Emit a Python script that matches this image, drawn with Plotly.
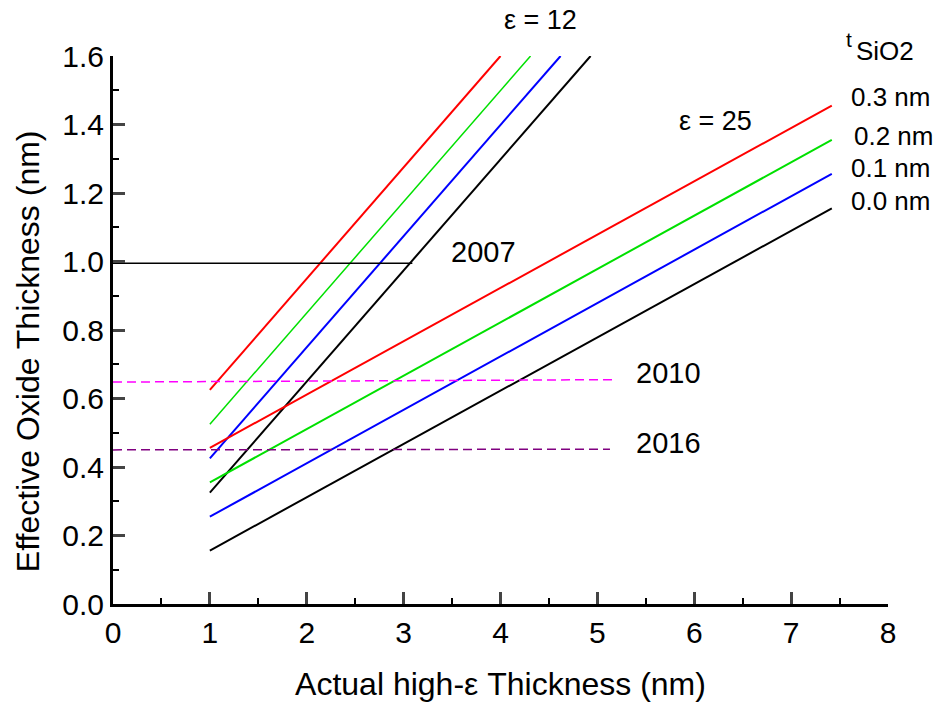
import plotly.graph_objects as go

# ---- data ----
tsio2_labels = ["0.3 nm", "0.2 nm", "0.1 nm", "0.0 nm"]
line_colors = ["#ff0000", "#00e000", "#0000ff", "#000000"]

# epsilon = 12 lines: start at x=1, end at EOT = 1.6
eps12_x0 = [1.0, 1.0, 1.0, 1.0]
eps12_x1 = [4.0, 4.31, 4.62, 4.93]
eps12_y0 = [0.625, 0.525, 0.425, 0.325]
eps12_y1 = [1.6, 1.6, 1.6, 1.6]

# epsilon = 25 lines
eps25_x0 = [1.0, 1.0, 1.0, 1.0]
eps25_x1 = [7.42, 7.42, 7.42, 7.42]
eps25_y0 = [0.456, 0.355, 0.255, 0.156]
eps25_y1 = [1.455, 1.355, 1.256, 1.155]

# roadmap targets
year_labels = ["2007", "2010", "2016"]
year_x = [[0.0, 3.09], [0.0, 5.17], [0.0, 5.13]]
year_y = [[0.995, 0.995], [0.648, 0.655], [0.450, 0.452]]
year_colors = ["#000000", "#ff00ff", "#800080"]
year_dash = ["solid", "9px,5px", "9px,5px"]

XMAX, YMAX = 8.0, 1.6
FONT = "Liberation Sans, Arial, sans-serif"

fig = go.Figure()

for i in range(4):
    fig.add_trace(go.Scatter(x=[eps12_x0[i], eps12_x1[i]], y=[eps12_y0[i], eps12_y1[i]],
                             mode="lines", line=dict(color=line_colors[i], width=2 if i != 1 else 1.5),
                             showlegend=False, hoverinfo="skip"))
for i in range(4):
    fig.add_trace(go.Scatter(x=[eps25_x0[i], eps25_x1[i]], y=[eps25_y0[i], eps25_y1[i]],
                             mode="lines", line=dict(color=line_colors[i], width=2),
                             showlegend=False, hoverinfo="skip"))
for i in range(3):
    fig.add_trace(go.Scatter(x=year_x[i], y=year_y[i], mode="lines",
                             line=dict(color=year_colors[i], width=1.5, dash=year_dash[i]),
                             showlegend=False, hoverinfo="skip"))

annots = []
def ann(text, x, y, size=29, xanchor="center", angle=0):
    annots.append(dict(text=text, x=x / XMAX, y=y / YMAX, xref="paper", yref="paper", showarrow=False,
                       font=dict(size=size, color="black", family=FONT), xanchor=xanchor,
                       yanchor="middle", textangle=angle))

ann("ε = 12", 4.41, 1.705, size=27)
ann("ε = 25", 6.22, 1.41, size=27)
ann("t", 7.6, 1.648, size=21)
ann("SiO2", 7.97, 1.615, size=26)
tsio2_y = [1.48, 1.366, 1.273, 1.177]
tsio2_x = [8.03, 8.06, 8.03, 8.03]
for i in range(4):
    ann(tsio2_labels[i], tsio2_x[i], tsio2_y[i], size=26)
ann(year_labels[0], 3.82, 1.028)
ann(year_labels[1], 5.73, 0.674)
ann(year_labels[2], 5.73, 0.470)
# y-axis title (placed as rotated text, slightly below the plot centre as in the reference)
ann("Effective Oxide Thickness (nm)", -0.875, 0.739, size=32, angle=-90)

fig.update_layout(
    width=935, height=702,
    margin=dict(l=113, r=47, t=56, b=98, autoexpand=False),
    plot_bgcolor="white", paper_bgcolor="white",
    font=dict(family=FONT, color="black", size=29),
    annotations=annots,
    xaxis=dict(range=[0, XMAX], tick0=0, dtick=1, ticks="inside", ticklen=12, tickwidth=2.5,
               showline=True, linewidth=3, linecolor="black", showgrid=False, zeroline=False,
               tickfont=dict(size=30), automargin=False,
               minor=dict(dtick=0.5, ticks="inside", ticklen=6, tickwidth=2, tickcolor="black"),
               title=dict(text="Actual high-ε Thickness (nm)", font=dict(size=32), standoff=25)),
    yaxis=dict(range=[0, YMAX], tick0=0, dtick=0.2, ticks="inside", ticklen=12, tickwidth=2.5,
               showline=True, linewidth=3, linecolor="black", showgrid=False, zeroline=False,
               tickformat=".1f", tickfont=dict(size=30), automargin=False,
               minor=dict(dtick=0.1, ticks="inside", ticklen=6, tickwidth=2, tickcolor="black")),
)

fig.write_html("out.html", config={"displayModeBar": False},
               post_script="document.body.style.margin='0px';")
